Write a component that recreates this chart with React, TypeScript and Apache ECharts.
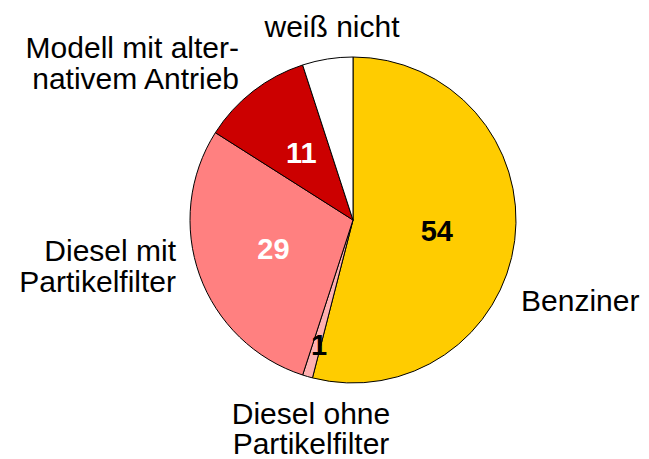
import React, { useEffect, useRef } from "react";
import * as echarts from "echarts";

const categories = [
  "Benziner",
  "Diesel ohne\nPartikelfilter",
  "Diesel mit\nPartikelfilter",
  "Modell mit alter-\nnativem Antrieb",
  "weiß nicht",
];
const values = [54, 1, 29, 11, 5];
const valueLabels = ["54", "1", "29", "11", ""];
const colors = ["#FFCC00", "#FFB0B0", "#FF8080", "#CC0000", "#FFFFFF"];
const valueLabelColors = ["#000000", "#000000", "#FFFFFF", "#FFFFFF", "#000000"];

export default function App() {
  const ref = useRef<HTMLDivElement>(null);
  useEffect(() => {
    if (!ref.current) return;
    const chart = echarts.init(ref.current, undefined, { renderer: "svg" });
    const center = [353, 220];
    const radius = 163;
    const nameLabelPos: Record<number, any> = {
      0: { x: 521, y: 300, align: "left" },
      1: { x: 311, y: 428, align: "center" },
      2: { x: 176, y: 266, align: "right" },
      3: { x: 239, y: 63, align: "right" },
      4: { x: 332, y: 26, align: "center" },
    };
    const lineHeights = [32, 30, 31, 31, 32];
    chart.setOption({
      animation: false,
      backgroundColor: "#ffffff",
      series: [
        {
          type: "pie",
          center,
          radius,
          startAngle: 90,
          clockwise: true,
          silent: true,
          z: 1,
          avoidLabelOverlap: false,
          itemStyle: { color: "transparent", borderWidth: 0 },
          label: {
            show: true,
            position: "outside",
            overflow: "none",
            fontFamily: "Liberation Sans, Arial, sans-serif",
            fontSize: 30,
            color: "#000000",
            formatter: (p: any) => categories[p.dataIndex],
          },
          labelLine: { show: false },
          labelLayout: (p: any) => {
            const pos = nameLabelPos[p.dataIndex];
            return {
              x: pos.x,
              y: pos.y,
              align: pos.align,
              verticalAlign: "middle",
            };
          },
          data: categories.map((c, i) => ({
            name: c,
            value: values[i],
            label: { lineHeight: lineHeights[i], align: nameLabelPos[i].align },
          })),
        },
        {
          type: "pie",
          center,
          radius,
          startAngle: 90,
          clockwise: true,
          z: 2,
          avoidLabelOverlap: false,
          itemStyle: { borderColor: "#000000", borderWidth: 1 },
          label: {
            show: true,
            position: "inside",
            fontFamily: "Liberation Sans, Arial, sans-serif",
            fontSize: 29,
            fontWeight: "bold",
            formatter: (p: any) => valueLabels[p.dataIndex],
          },
          labelLayout: (p: any) => {
            if (p.dataIndex === 1) {
              return { x: 319, y: 345, align: "center", verticalAlign: "middle" };
            }
            return {};
          },
          labelLine: { show: false },
          data: categories.map((c, i) => ({
            name: c,
            value: values[i],
            itemStyle: { color: colors[i] },
            label: { color: valueLabelColors[i] },
          })),
        },
      ],
    });
    return () => chart.dispose();
  }, []);
  return (
    <div
      ref={ref}
      style={{ position: "fixed", left: 0, top: 0, width: 649, height: 459 }}
    />
  );
}
